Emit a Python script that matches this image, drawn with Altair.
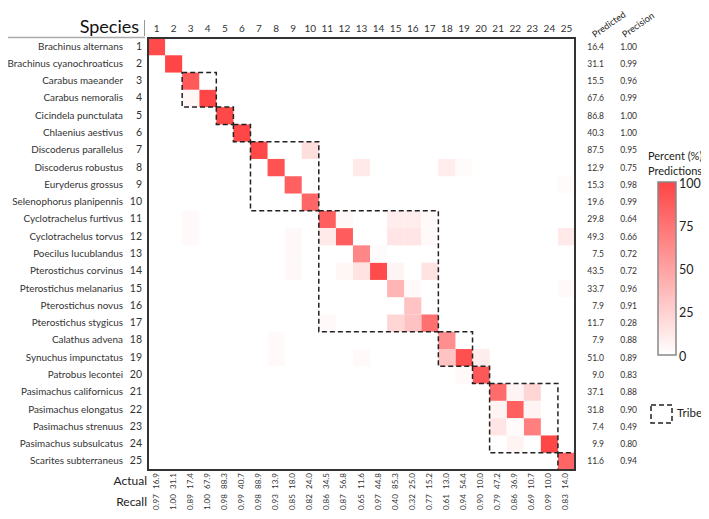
import altair as alt
import pandas as pd

# ---------------- data ----------------
species = [
    "Brachinus alternans", "Brachinus cyanochroaticus", "Carabus maeander",
    "Carabus nemoralis", "Cicindela punctulata", "Chlaenius aestivus",
    "Discoderus parallelus", "Discoderus robustus", "Euryderus grossus",
    "Selenophorus planipennis", "Cyclotrachelus furtivus", "Cyclotrachelus torvus",
    "Poecilus lucublandus", "Pterostichus corvinus", "Pterostichus melanarius",
    "Pterostichus novus", "Pterostichus stygicus", "Calathus advena",
    "Synuchus impunctatus", "Patrobus lecontei", "Pasimachus californicus",
    "Pasimachus elongatus", "Pasimachus strenuus", "Pasimachus subsulcatus",
    "Scarites subterraneus",
]
predicted = [16.4, 31.1, 15.5, 67.6, 86.8, 40.3, 87.5, 12.9, 15.3, 19.6, 29.8, 49.3, 7.5,
             43.5, 33.7, 7.9, 11.7, 7.9, 51.0, 9.0, 37.1, 31.8, 7.4, 9.9, 11.6]
precision = [1.00, 0.99, 0.96, 0.99, 1.00, 1.00, 0.95, 0.75, 0.98, 0.99, 0.64, 0.66, 0.72,
             0.72, 0.96, 0.91, 0.28, 0.88, 0.89, 0.83, 0.88, 0.90, 0.49, 0.80, 0.94]
actual = [16.9, 31.1, 17.4, 67.9, 88.3, 40.7, 88.9, 13.9, 18.0, 24.0, 34.5, 56.8, 11.6,
          44.8, 85.3, 25.0, 15.2, 13.0, 54.4, 10.0, 47.2, 36.9, 10.7, 10.0, 14.0]
recall = [0.97, 1.00, 0.89, 1.00, 0.98, 0.99, 0.98, 0.93, 0.85, 0.82, 0.86, 0.87, 0.65,
          0.97, 0.40, 0.32, 0.77, 0.61, 0.94, 0.90, 0.79, 0.86, 0.69, 0.99, 0.83]

# confusion-matrix cells (row = predicted species, col = actual species, value = percent)
cell_row = list(range(1, 26)) + [
    4, 11, 12, 7, 8, 8, 8, 9, 11, 12, 11, 11, 11, 12, 12, 12, 12, 12, 13, 14,
    13, 14, 14, 14, 14, 15, 15, 17, 17, 17, 18, 19, 19, 19, 19, 20, 21, 21,
    22, 22, 23, 23, 24]
cell_col = list(range(1, 26)) + [
    3, 3, 3, 10, 13, 18, 19, 25, 12, 11, 15, 16, 17, 15, 16, 17, 25, 9, 9, 9,
    14, 12, 13, 15, 17, 16, 25, 11, 15, 16, 8, 8, 13, 18, 20, 19, 22, 23,
    21, 23, 21, 22, 22]
cell_val = [97, 100, 89, 100, 98, 99, 98, 93, 85, 82, 86, 87, 65, 97, 40, 32, 77, 61, 94,
            90, 79, 86, 69, 99, 83] + [
    5, 3, 3, 18, 12, 10, 2, 2, 4, 12, 10, 10, 3, 14, 14, 3, 12, 4, 4, 4,
    2, 5, 15, 6, 15, 3, 3, 3, 22, 33, 3, 3, 3, 32, 10, 3, 6, 22,
    6, 6, 14, 2, 6]

# tribe groups (first and last species index)
tribe_start = [3, 5, 6, 7, 11, 18, 20, 21, 25]
tribe_end = [4, 5, 6, 10, 17, 19, 20, 24, 25]

legend_ticks = [0, 25, 50, 75, 100]

# ---------------- layout ----------------
FONT = "Lato"
LOW, HIGH = "#ffffff", "#ff4545"
W, H = 693, 503
CW, CH = 17.08, 17.28
X0, Y0 = 140, 30  # matrix top-left corner in chart pixels
xdom = [0.5 - X0 / CW, 0.5 + (W - X0) / CW]
ydom = [0.5 - Y0 / CH, 0.5 + (H - Y0) / CH]
xs = alt.Scale(domain=xdom, nice=False, zero=False)
ys = alt.Scale(domain=ydom, nice=False, zero=False, reverse=True)

LEG_X, LEG_Y, LEG_LEN, LEG_THICK = 650, 174, 173, 18

idx = list(range(1, 26))
side = pd.DataFrame({"i": idx, "name": species, "pred": predicted, "prec": precision,
                     "act": actual, "rec": recall})
cells = pd.DataFrame({"r": cell_row, "c": cell_col, "v": cell_val})
cells["x1"] = cells["c"] - 0.5
cells["x2"] = cells["c"] + 0.5
cells["y1"] = cells["r"] - 0.5
cells["y2"] = cells["r"] + 0.5
tribes = pd.DataFrame({"a": [s - 0.5 for s in tribe_start], "b": [e + 0.5 for e in tribe_end]})
frame = pd.DataFrame({"a": [0.5], "b": [25.5]})
one = pd.DataFrame({"k": [0]})
ticks = pd.DataFrame({"t": legend_ticks})

cell_layer = alt.Chart(cells).mark_rect().encode(
    x=alt.X("x1:Q", scale=xs, axis=None), x2="x2:Q",
    y=alt.Y("y1:Q", scale=ys, axis=None), y2="y2:Q",
    color=alt.Color("v:Q", scale=alt.Scale(domain=[0, 100], range=[LOW, HIGH],
                                           interpolate="rgb"), legend=None),
)

# colour bar (same colours as the cell scale)
colorbar = alt.Chart(one).mark_rect(
    fill=alt.LinearGradient(gradient="linear",
                            stops=[alt.GradientStop(color=LOW, offset=0),
                                   alt.GradientStop(color=HIGH, offset=1)],
                            x1=0, x2=0, y1=1, y2=0),
    stroke="#888", strokeWidth=1.5,
).encode(x=alt.value(LEG_X), x2=alt.value(LEG_X + LEG_THICK),
         y=alt.value(LEG_Y), y2=alt.value(LEG_Y + LEG_LEN))

tick_labels = alt.Chart(ticks).mark_text(align="left", baseline="middle", font=FONT,
                                         fontSize=12.5, color="#222").transform_calculate(
    py=f"{LEG_Y} + (100 - datum.t) / 100 * {LEG_LEN} + 1.5"
).encode(x=alt.value(LEG_X + LEG_THICK + 3), y=alt.Y("py:Q", scale=None), text="t:Q")

tribe_layer = alt.Chart(tribes).mark_rect(fillOpacity=0, stroke="#222", strokeWidth=1.5,
                                          strokeDash=[5, 3]).encode(
    x=alt.X("a:Q", scale=xs, axis=None), x2="b:Q",
    y=alt.Y("a:Q", scale=ys, axis=None), y2="b:Q",
)

frame_layer = alt.Chart(frame).mark_rect(fillOpacity=0, stroke="#333", strokeWidth=2).encode(
    x=alt.X("a:Q", scale=xs, axis=None), x2="b:Q",
    y=alt.Y("a:Q", scale=ys, axis=None), y2="b:Q",
)

base_side = alt.Chart(side)

names = base_side.mark_text(align="right", baseline="middle", font=FONT, fontSize=9.9,
                            color="#333").encode(
    x=alt.value(115), y=alt.Y("i:Q", scale=ys, axis=None), text="name:N")
rownums = base_side.mark_text(align="right", baseline="middle", font=FONT, fontSize=10.5,
                              color="#333").encode(
    x=alt.value(134), y=alt.Y("i:Q", scale=ys, axis=None), text="i:N")
colnums = base_side.mark_text(align="center", baseline="middle", font=FONT, fontSize=10,
                              color="#333").encode(
    x=alt.X("i:Q", scale=xs, axis=None), y=alt.value(20.5), text="i:N")
pred_t = base_side.mark_text(align="right", baseline="middle", font=FONT, fontSize=8.5,
                             color="#333").encode(
    x=alt.value(596), y=alt.Y("i:Q", scale=ys, axis=None), text=alt.Text("pred:Q", format=".1f"))
prec_t = base_side.mark_text(align="right", baseline="middle", font=FONT, fontSize=8.5,
                             color="#333").encode(
    x=alt.value(629), y=alt.Y("i:Q", scale=ys, axis=None), text=alt.Text("prec:Q", format=".2f"))
act_t = base_side.mark_text(align="center", baseline="middle", font=FONT, fontSize=8,
                            color="#333", angle=270).encode(
    x=alt.X("i:Q", scale=xs, axis=None), y=alt.value(473), text=alt.Text("act:Q", format=".1f"))
rec_t = base_side.mark_text(align="center", baseline="middle", font=FONT, fontSize=8,
                            color="#333", angle=270).encode(
    x=alt.X("i:Q", scale=xs, axis=None), y=alt.value(494), text=alt.Text("rec:Q", format=".2f"))


def label(txt, x, y, size, align="left", angle=0, baseline="middle", color="#222"):
    kw = dict(align=align, baseline=baseline, font=FONT, fontSize=size, color=color, text=txt)
    if angle:
        kw["angle"] = angle
    return alt.Chart(one).mark_text(**kw).encode(x=alt.value(x), y=alt.value(y))


species_title = label("Species", 131, 25, 18, align="right", baseline="alphabetic", color="#111")
pred_head = label("Predicted", 587, 30, 9.2, angle=325, baseline="alphabetic")
prec_head = label("Precision", 617, 30, 9.2, angle=325, baseline="alphabetic")
actual_lab = label("Actual", 139, 473, 12, align="right")
recall_lab = label("Recall", 139, 494, 12, align="right")
leg_t1 = label("Percent (%)", 640, 149, 11)
leg_t2 = label("Predictions", 640, 164, 11)
tribe_lab = label("Tribe", 669, 406, 11.5)

hline = alt.Chart(one).mark_rule(color="#aaa", strokeWidth=1.5).encode(
    x=alt.value(0), x2=alt.value(137), y=alt.value(29.5))
vline = alt.Chart(one).mark_rule(color="#999", strokeWidth=1).encode(
    x=alt.value(136.5), y=alt.value(12), y2=alt.value(28))

tribe_key = alt.Chart(one).mark_rect(fillOpacity=0, stroke="#222", strokeWidth=1.5,
                                     strokeDash=[5, 3]).encode(
    x=alt.value(643), x2=alt.value(664), y=alt.value(397), y2=alt.value(415))

chart = alt.layer(
    cell_layer, tribe_layer, frame_layer, names, rownums, colnums, pred_t, prec_t,
    act_t, rec_t, species_title, pred_head, prec_head, actual_lab, recall_lab,
    leg_t1, leg_t2, tribe_lab, hline, vline, tribe_key, colorbar, tick_labels,
).properties(width=W, height=H, autosize=alt.AutoSizeParams(type="none"), padding=0
).configure_view(stroke=None)

chart.save("out.html", embed_options={"renderer": "svg", "actions": False})
